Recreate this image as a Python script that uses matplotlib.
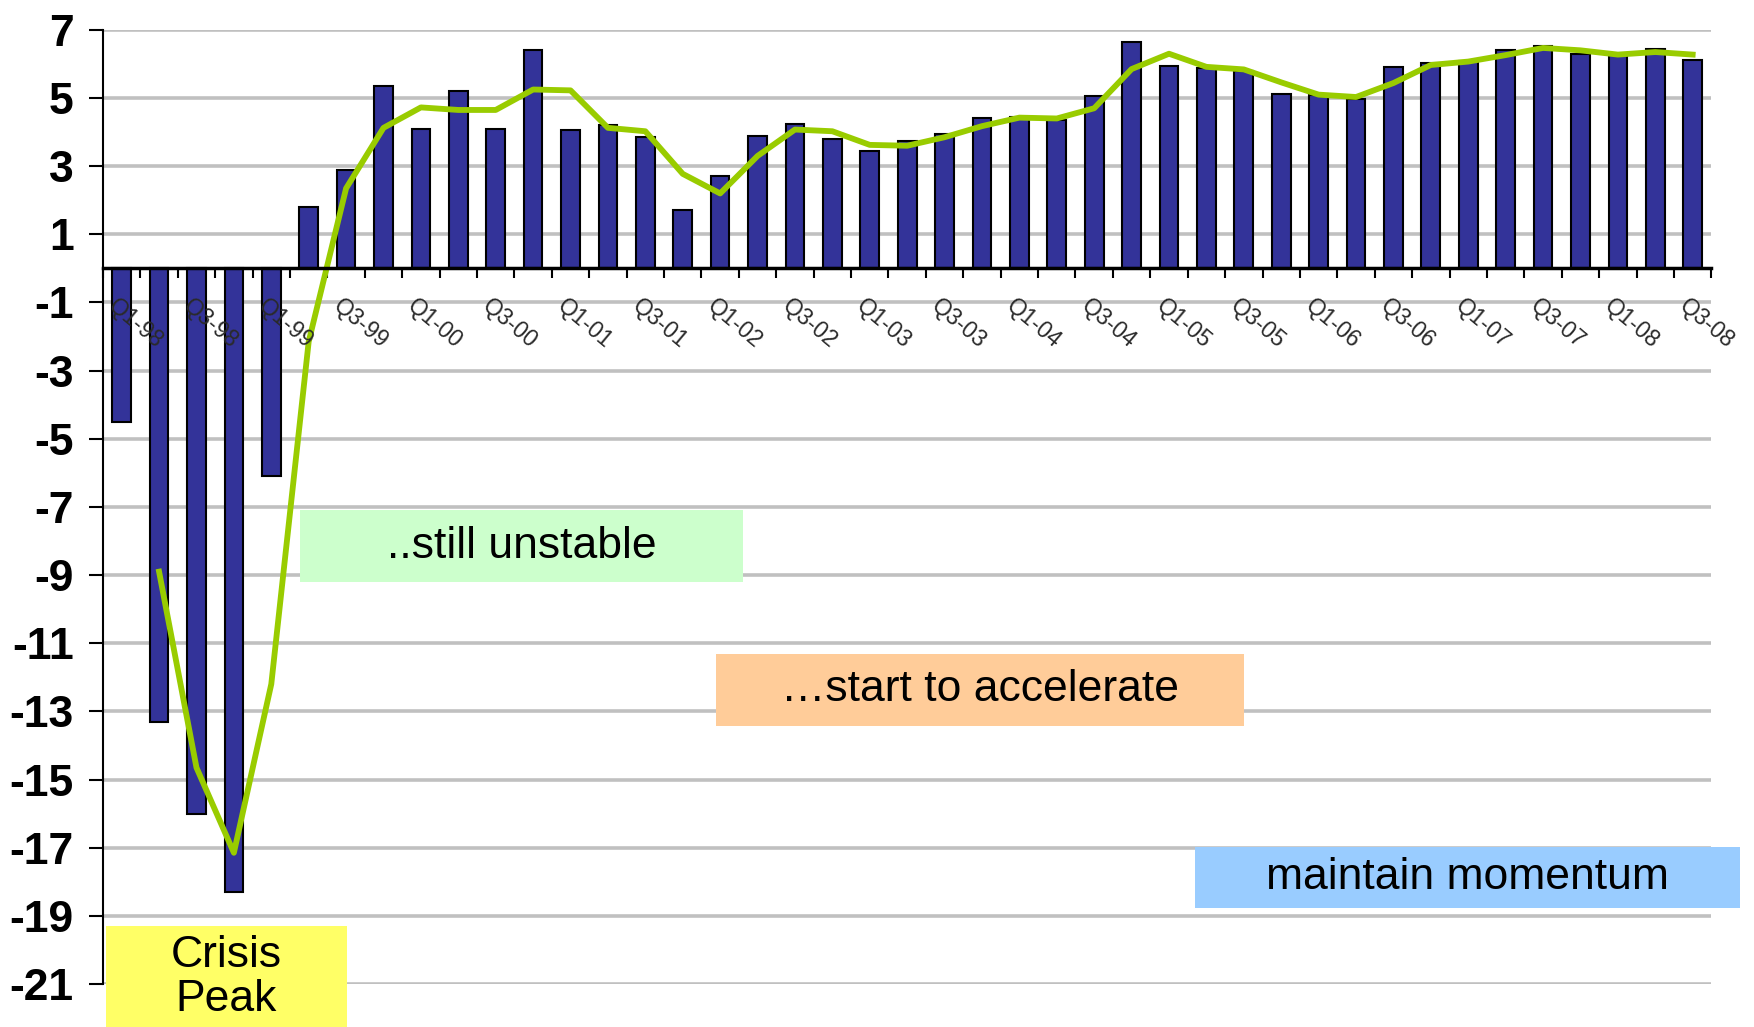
import numpy as np
import pandas as pd
import matplotlib
matplotlib.use('Agg')
import matplotlib.pyplot as plt
from matplotlib.patches import Rectangle

plt.rcParams['font.family'] = ['Liberation Sans', 'DejaVu Sans']

# quarterly growth (%), Q1-98 .. Q3-08
quarters = [f'Q{q}-{y:02d}' for y in [98, 99, 0, 1, 2, 3, 4, 5, 6, 7, 8] for q in [1, 2, 3, 4]][:43]
growth = [-4.5, -13.3, -16.0, -18.3, -6.1, 1.8, 2.9, 5.35, 4.1, 5.2,
          4.1, 6.4, 4.05, 4.2, 3.85, 1.7, 2.7, 3.9, 4.25, 3.8,
          3.45, 3.75, 3.95, 4.4, 4.45, 4.35, 5.05, 6.65, 5.95, 5.88,
          5.8, 5.12, 5.08, 4.98, 5.9, 6.04, 6.1, 6.42, 6.52, 6.28,
          6.27, 6.43, 6.12]
yticks = list(range(-21, 8, 2))

# phase boxes: text, colour, x0, x1, y0, y1 (data units)
phases = [
    ('Crisis\nPeak', '#FFFF66', -0.42, 6.02, -22.3, -19.3),
    ('..still unstable', '#CCFFCC', 4.77, 16.61, -9.2, -7.1),
    ('\u2026start to accelerate', '#FFCC99', 15.89, 30.0, -13.43, -11.31),
    ('maintain momentum', '#99CCFF', 28.69, 43.26, -18.77, -16.98),
]

df = pd.DataFrame({'q': quarters, 'g': growth})
df['ma'] = df['g'].rolling(2).mean()  # 2-period moving average trendline
x = np.arange(len(df))

fig = plt.figure(figsize=(17.54, 10.27), dpi=100)
ax = fig.add_axes([0.0587, 0.0419, 0.917, 0.929])

ax.bar(x, df['g'], width=0.5, color='#333399', edgecolor='black', linewidth=1.5, zorder=2)
ax.plot(x, df['ma'], color='#99CC00', linewidth=4.2, zorder=3)

ax.set_xlim(-0.5, len(df) - 0.5)
ax.set_ylim(-21, 7)
ax.set_yticks(yticks)
ax.set_yticklabels([str(v) for v in yticks], fontsize=32, fontweight='bold')
ax.yaxis.grid(True, color='#C0C0C0', linewidth=2.6)
ax.set_axisbelow(True)

for s in ['top', 'right']:
    ax.spines[s].set_visible(False)
ax.spines['left'].set_linewidth(1.5)
ax.spines['bottom'].set_position(('data', 0))
ax.spines['bottom'].set_linewidth(2.5)
ax.spines['bottom'].set_zorder(4)

ax.set_xticks(np.arange(-0.5, len(df), 1))
ax.set_xticklabels([])
ax.tick_params(axis='x', direction='out', length=7, width=1.5)
ax.tick_params(axis='y', direction='out', length=10, width=1.5, pad=11)

for i in range(0, len(df), 2):
    ax.annotate(df['q'][i], xy=(i, 0), xytext=(-2, -19), textcoords='offset points',
                rotation=-40, rotation_mode='anchor', ha='left', va='top',
                fontsize=16.5, color='#2a2a2a', zorder=5)

for txt, col, x0, x1, y0, y1 in phases:
    ax.add_patch(Rectangle((x0, y0), x1 - x0, y1 - y0, facecolor=col,
                           edgecolor='none', zorder=4, clip_on=False))
    ax.text((x0 + x1) / 2, (y0 + y1) / 2, txt, ha='center', va='center',
            fontsize=32, linespacing=1.1, zorder=5, clip_on=False)

fig.savefig('out.png', dpi=100)
